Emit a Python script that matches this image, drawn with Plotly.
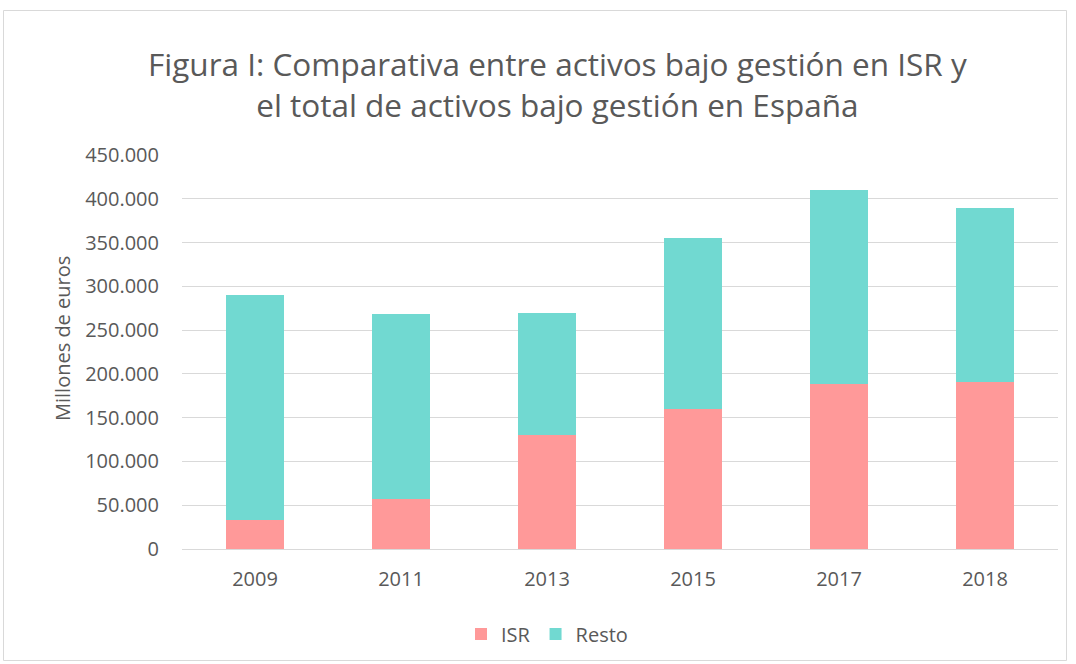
import plotly.graph_objects as go

years = ["2009", "2011", "2013", "2015", "2017", "2018"]
isr = [33000, 57000, 130000, 159500, 189000, 191000]
total = [290000, 268500, 270000, 355000, 410000, 390000]
resto = [t - i for t, i in zip(total, isr)]
title_lines = ["Figura I: Comparativa entre activos bajo gestión en ISR y",
               "el total de activos bajo gestión en España"]

W, H = 1076, 664
L, R, T, B = 182, W - 1058, 155, H - 549
pw, ph = W - L - R, H - T - B

def px(x):
    return (x - L) / pw

def py(y):
    return (H - B - y) / ph

fig = go.Figure()
fig.add_trace(go.Bar(x=years, y=isr, name="ISR", marker=dict(color="#FF9999", line=dict(width=0))))
fig.add_trace(go.Bar(x=years, y=resto, name="Resto", marker=dict(color="#71D9D1", line=dict(width=0))))

font = "Open Sans"
grey = "#595959"
fig.update_layout(
    width=W, height=H,
    barmode="stack", bargap=0.603,
    margin=dict(l=L, r=R, t=T, b=B, autoexpand=False),
    paper_bgcolor="white", plot_bgcolor="white",
    separators=",.",
    font=dict(family=font, color=grey, size=20),
    showlegend=True,
    legend=dict(orientation="h", x=px(547), xanchor="center", y=py(634), yanchor="middle",
                font=dict(size=20, color=grey), traceorder="normal", itemwidth=30,
                tracegroupgap=0),
    xaxis=dict(showgrid=False, showline=True, linecolor="#D9D9D9", linewidth=1,
               ticks="", tickfont=dict(size=20, color=grey), ticklabelstandoff=12),
    yaxis=dict(range=[0, 450000], dtick=50000, tickformat=",d", showgrid=True,
               gridcolor="#D9D9D9", gridwidth=1, zeroline=False, showline=False,
               tickfont=dict(size=20, color=grey), ticklabelstandoff=22),
    annotations=[
        dict(text="<br>".join(title_lines), x=px(557), y=py(84), align="center",
             xref="paper", yref="paper", showarrow=False, xanchor="center", yanchor="middle",
             font=dict(size=31.5, color=grey, family=font)),
        dict(text="Millones de euros", x=px(62), y=py(339), textangle=-90,
             xref="paper", yref="paper", showarrow=False, xanchor="center", yanchor="middle",
             font=dict(size=20, color=grey, family=font)),
    ],
    shapes=[dict(type="rect", xref="paper", yref="paper", x0=px(3.5), x1=px(1066.5), y0=py(10.5), y1=py(660.5),
                 line=dict(color="#D9D9D9", width=1), layer="below")],
)

fig.write_html("out.html", config={"displayModeBar": False},
               post_script="document.body.style.margin='0';document.body.style.overflow='hidden';")
